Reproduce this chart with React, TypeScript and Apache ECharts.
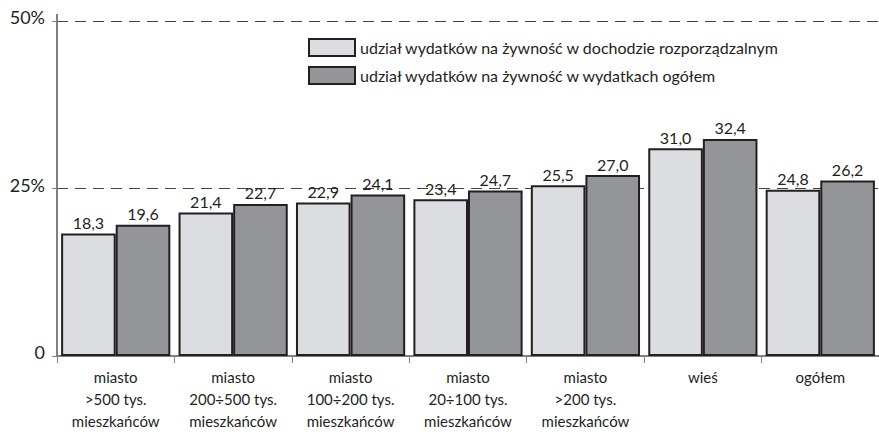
import React, { useEffect, useRef } from "react";
import * as echarts from "echarts";

const categories = [
  "miasto\n>500 tys.\nmieszkańców",
  "miasto\n200÷500 tys.\nmieszkańców",
  "miasto\n100÷200 tys.\nmieszkańców",
  "miasto\n20÷100 tys.\nmieszkańców",
  "miasto\n>200 tys.\nmieszkańców",
  "wieś",
  "ogółem",
];
const seriesNames = [
  "udział wydatków na żywność w dochodzie rozporządzalnym",
  "udział wydatków na żywność w wydatkach ogółem",
];
const incomeShare = [18.3, 21.4, 22.9, 23.4, 25.5, 31.0, 24.8];
const expenseShare = [19.6, 22.7, 24.1, 24.7, 27.0, 32.4, 26.2];
const yTicks = [0, 25, 50];

const FONT = "Lato";
const TEXT = "#231f20";

export default function App() {
  const ref = useRef<HTMLDivElement>(null);
  useEffect(() => {
    if (!ref.current) return;
    const chart = echarts.init(ref.current, null, { renderer: "svg" });
    const fmt = (p: any) => Number(p.value).toFixed(1).replace(".", ",");
    const barStyle = (color: string) => ({
      color,
      borderColor: TEXT,
      borderWidth: 2,
    });
    const label = {
      show: true,
      position: "top",
      distance: 3,
      formatter: fmt,
      fontFamily: FONT,
      fontSize: 16,
      color: TEXT,
    };
    chart.setOption({
      animation: false,
      textStyle: { fontFamily: FONT },
      grid: { left: 57, right: 0, top: 21, bottom: 78, containLabel: false },
      legend: {
        orient: "vertical",
        left: 303,
        top: 33,
        icon: "rect",
        itemWidth: 46,
        itemHeight: 17,
        itemGap: 9,
        textStyle: { fontFamily: FONT, fontSize: 16, color: TEXT },
        data: seriesNames,
      },
      xAxis: {
        type: "category",
        data: categories,
        axisLine: { lineStyle: { color: "#808080", width: 2 } },
        axisTick: { show: true, length: 7, lineStyle: { color: "#808080", width: 1 } },
        axisLabel: {
          fontFamily: FONT,
          fontSize: 15,
          lineHeight: 22,
          color: TEXT,
          margin: 10,
          interval: 0,
        },
      },
      yAxis: {
        type: "value",
        min: 0,
        max: 50,
        interval: 25,
        axisLine: { show: true, lineStyle: { color: "#808080", width: 2 } },
        axisTick: { show: true, length: 5, lineStyle: { color: "#808080" } },
        axisLabel: {
          fontFamily: FONT,
          fontSize: 18,
          color: TEXT,
          margin: 12,
          verticalAlign: "bottom",
          lineHeight: 8,
          formatter: (v: number) => (yTicks.includes(v) ? (v === 0 ? "0" : v + "%") : ""),
        },
        splitLine: {
          show: true,
          lineStyle: { color: "#444444", type: [11, 7], width: 1 },
        },
      },
      graphic: [
        {
          type: "line",
          shape: { x1: 57, y1: 14, x2: 57, y2: 22 },
          style: { stroke: "#808080", lineWidth: 2 },
        },
      ],
      series: [
        {
          name: seriesNames[0],
          type: "bar",
          data: incomeShare,
          barGap: "0%",
          barCategoryGap: "7%",
          itemStyle: barStyle("#dcdde0"),
          label,
        },
        {
          name: seriesNames[1],
          type: "bar",
          data: expenseShare,
          itemStyle: barStyle("#939598"),
          label,
        },
      ],
    });
    return () => chart.dispose();
  }, []);
  return <div ref={ref} style={{ width: 879, height: 434, position: "absolute", left: 0, top: 0 }} />;
}
